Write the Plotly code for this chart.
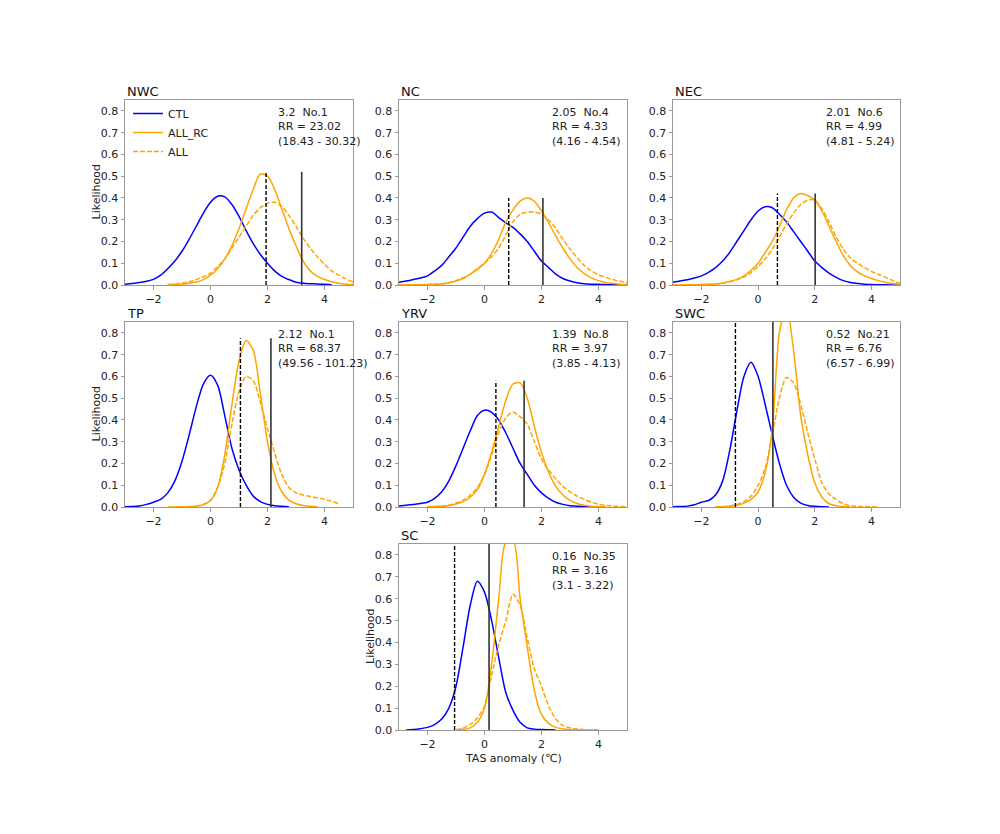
import plotly.graph_objects as go

# x grid of the density curves (deg C)
X = [-3.0, -2.75, -2.5, -2.25, -2.0, -1.75, -1.5, -1.25, -1.0, -0.75, -0.5, -0.25,
     0.0, 0.25, 0.5, 0.75, 1.0, 1.25, 1.5, 1.75, 2.0, 2.25, 2.5, 2.75,
     3.0, 3.25, 3.5, 3.75, 4.0, 4.25, 4.5, 4.75, 5.0]

regions = ["NWC", "NC", "NEC", "TP", "YRV", "SWC", "SC"]

# ---- NWC
ctl_nwc = [0.004, 0.007, 0.011, 0.017, 0.026, 0.045, 0.075, 0.11, 0.155, 0.21, 0.27, 0.33,
           0.38, 0.408, 0.405, 0.37, 0.315, 0.25, 0.19, 0.14, 0.10, 0.065, 0.04, 0.025,
           0.013, 0.008, 0.006, 0.005, 0.003, 0.001, None, None, None]
allrc_nwc = [None, None, None, None, None, None, 0.001, 0.002, 0.004, 0.008, 0.014, 0.025,
             0.045, 0.075, 0.12, 0.18, 0.26, 0.35, 0.44, 0.51, 0.50, 0.44, 0.35, 0.26,
             0.18, 0.11, 0.065, 0.04, 0.025, 0.015, 0.008, 0.004, 0.002]
all_nwc = [None, None, None, None, None, None, 0.002, 0.004, 0.008, 0.015, 0.025, 0.038,
           0.055, 0.085, 0.12, 0.17, 0.22, 0.27, 0.32, 0.355, 0.375, 0.38, 0.36, 0.32,
           0.27, 0.215, 0.17, 0.13, 0.095, 0.065, 0.045, 0.028, 0.015]

# ---- NC
ctl_nc = [0.013, 0.018, 0.025, 0.032, 0.042, 0.065, 0.09, 0.13, 0.17, 0.22, 0.27, 0.305,
          0.33, 0.335, 0.31, 0.285, 0.265, 0.235, 0.20, 0.155, 0.11, 0.08, 0.05, 0.03,
          0.018, 0.01, 0.006, 0.004, 0.003, 0.002, 0.001, 0.001, 0.0]
allrc_nc = [0.0, 0.0, 0.001, 0.001, 0.002, 0.003, 0.005, 0.01, 0.018, 0.03, 0.05, 0.072,
            0.10, 0.145, 0.21, 0.29, 0.345, 0.385, 0.40, 0.385, 0.34, 0.285, 0.225, 0.17,
            0.12, 0.08, 0.052, 0.033, 0.02, 0.012, 0.007, 0.004, 0.002]
all_nc = [0.0, 0.0, 0.001, 0.001, 0.002, 0.004, 0.006, 0.011, 0.02, 0.032, 0.05, 0.075,
          0.10, 0.13, 0.17, 0.23, 0.29, 0.325, 0.335, 0.335, 0.325, 0.30, 0.26, 0.21,
          0.165, 0.125, 0.09, 0.065, 0.047, 0.035, 0.025, 0.017, 0.01]

# ---- NEC
ctl_nec = [0.013, 0.018, 0.024, 0.032, 0.042, 0.058, 0.08, 0.11, 0.15, 0.20, 0.25, 0.30,
           0.34, 0.36, 0.355, 0.325, 0.29, 0.245, 0.20, 0.155, 0.11, 0.08, 0.055, 0.035,
           0.02, 0.012, 0.007, 0.004, 0.002, 0.001, 0.001, 0.0, 0.0]
allrc_nec = [0.0, 0.0, 0.001, 0.001, 0.002, 0.003, 0.005, 0.009, 0.016, 0.026, 0.042, 0.068,
             0.10, 0.15, 0.20, 0.27, 0.345, 0.40, 0.42, 0.41, 0.39, 0.34, 0.27, 0.20,
             0.135, 0.09, 0.06, 0.042, 0.03, 0.02, 0.012, 0.007, 0.004]
all_nec = [0.0, 0.0, 0.001, 0.001, 0.002, 0.003, 0.005, 0.009, 0.015, 0.024, 0.036, 0.058,
           0.085, 0.12, 0.165, 0.22, 0.28, 0.33, 0.37, 0.39, 0.39, 0.35, 0.29, 0.22,
           0.165, 0.125, 0.10, 0.08, 0.062, 0.048, 0.035, 0.02, 0.008]

# ---- TP
ctl_tp = [0.001, 0.002, 0.005, 0.012, 0.022, 0.035, 0.065, 0.12, 0.21, 0.33, 0.46, 0.565,
          0.605, 0.56, 0.42, 0.27, 0.17, 0.10, 0.05, 0.025, 0.012, 0.006, 0.003, 0.001,
          None, None, None, None, None, None, None, None, None]
allrc_tp = [None, None, None, None, None, None, 0.0, 0.0, 0.001, 0.002, 0.004, 0.01,
            0.03, 0.09, 0.24, 0.47, 0.67, 0.765, 0.72, 0.52, 0.30, 0.15, 0.07, 0.032,
            0.015, 0.007, 0.003, 0.001, None, None, None, None, None]
all_tp = [None, None, None, None, None, None, None, None, 0.0, 0.001, 0.004, 0.012,
          0.03, 0.09, 0.20, 0.38, 0.53, 0.60, 0.58, 0.48, 0.36, 0.25, 0.15, 0.09,
          0.065, 0.055, 0.048, 0.042, 0.035, 0.027, 0.015, None, None]

# ---- YRV
ctl_yrv = [0.004, 0.008, 0.012, 0.016, 0.022, 0.04, 0.07, 0.12, 0.19, 0.27, 0.35, 0.42,
           0.445, 0.435, 0.40, 0.34, 0.27, 0.20, 0.15, 0.10, 0.065, 0.04, 0.022, 0.012,
           0.006, 0.004, 0.002, 0.001, 0.0, None, None, None, None]
allrc_yrv = [None, None, None, None, 0.001, 0.002, 0.003, 0.007, 0.014, 0.025, 0.045, 0.08,
             0.15, 0.25, 0.37, 0.49, 0.565, 0.57, 0.50, 0.37, 0.25, 0.16, 0.095, 0.055,
             0.03, 0.016, 0.008, 0.004, 0.002, 0.001, None, None, None]
all_yrv = [None, None, None, None, 0.001, 0.002, 0.004, 0.009, 0.018, 0.032, 0.055, 0.09,
           0.15, 0.24, 0.34, 0.41, 0.435, 0.415, 0.38, 0.30, 0.22, 0.17, 0.13, 0.095,
           0.07, 0.05, 0.035, 0.022, 0.013, 0.007, 0.004, 0.002, 0.001]

# ---- SWC
ctl_swc = [0.001, 0.002, 0.004, 0.01, 0.022, 0.03, 0.055, 0.12, 0.26, 0.44, 0.60, 0.665,
           0.60, 0.47, 0.33, 0.20, 0.10, 0.045, 0.018, 0.007, 0.003, 0.001, 0.0, None,
           None, None, None, None, None, None, None, None, None]
allrc_swc = [None, None, None, None, None, None, 0.0, 0.001, 0.003, 0.008, 0.018, 0.035,
             0.07, 0.16, 0.36, 0.80, 0.92, 0.72, 0.42, 0.24, 0.11, 0.045, 0.015, 0.006,
             0.002, 0.001, None, None, None, None, None, None, None]
all_swc = [None, None, None, None, None, None, 0.001, 0.002, 0.005, 0.012, 0.025, 0.05,
           0.10, 0.18, 0.33, 0.50, 0.595, 0.57, 0.47, 0.34, 0.22, 0.11, 0.06, 0.035,
           0.015, 0.006, 0.003, 0.002, 0.001, 0.0, None, None, None]

# ---- SC
ctl_sc = [None, 0.0, 0.002, 0.006, 0.012, 0.025, 0.05, 0.10, 0.20, 0.38, 0.57, 0.68,
          0.63, 0.50, 0.33, 0.17, 0.09, 0.035, 0.01, 0.004, 0.002, 0.001, 0.0, None,
          None, None, None, None, None, None, None, None, None]
allrc_sc = [None, None, None, None, None, None, None, None, 0.0, 0.003, 0.01, 0.035,
            0.10, 0.30, 0.60, 0.86, 0.87, 0.60, 0.38, 0.18, 0.07, 0.03, 0.012, 0.005,
            0.002, 0.001, 0.0, 0.0, 0.0, None, None, None, None]
all_sc = [None, None, None, None, None, None, None, None, 0.002, 0.008, 0.025, 0.055,
          0.11, 0.25, 0.39, 0.50, 0.62, 0.57, 0.42, 0.28, 0.20, 0.11, 0.05, 0.02,
          0.01, 0.005, 0.002, 0.001, 0.001, None, None, None, None]

ctl = [ctl_nwc, ctl_nc, ctl_nec, ctl_tp, ctl_yrv, ctl_swc, ctl_sc]
allrc = [allrc_nwc, allrc_nc, allrc_nec, allrc_tp, allrc_yrv, allrc_swc, allrc_sc]
all_ = [all_nwc, all_nc, all_nec, all_tp, all_yrv, all_swc, all_sc]

obs_values = [3.2, 2.05, 2.01, 2.12, 1.39, 0.52, 0.16]
thresholds = [1.95, 0.85, 0.68, 1.05, 0.40, -0.80, -1.05]
line_tops = [0.52, 0.40, 0.42, 0.775, 0.58, 0.90, 0.90]
ranks = ["No.1", "No.4", "No.6", "No.1", "No.8", "No.21", "No.35"]
rr = [23.02, 4.33, 4.99, 68.37, 3.97, 6.76, 3.16]
rr_lo = [18.43, 4.16, 4.81, 49.56, 3.85, 6.57, 3.1]
rr_hi = [30.32, 4.54, 5.24, 101.23, 4.13, 6.99, 3.22]

y_ticks = [0.0, 0.1, 0.2, 0.3, 0.4, 0.5, 0.6, 0.7, 0.8]
x_ticks = [-2, 0, 2, 4]

W, H = 1000, 834
OFF = 8  # page body margin
cols = [(125, 353), (399, 627), (673, 900)]
rows = [(100, 285), (322, 507), (544, 730)]
cells = [(0, 0), (0, 1), (0, 2), (1, 0), (1, 1), (1, 2), (2, 1)]

BLUE = "#0000ff"
ORANGE = "#ffa500"
FONT = "DejaVu Sans"
TXT = "#222222"

fig = go.Figure()
layout = {}
annotations = []

for i, reg in enumerate(regions):
    n = i + 1
    xa, ya = "x%d" % n if n > 1 else "x", "y%d" % n if n > 1 else "y"
    show = i == 0
    fig.add_trace(go.Scatter(x=X, y=ctl[i], mode="lines", name="CTL", showlegend=show,
                             line=dict(color=BLUE, width=1.5, shape="spline", smoothing=0.8),
                             xaxis=xa, yaxis=ya))
    fig.add_trace(go.Scatter(x=X, y=allrc[i], mode="lines", name="ALL_RC", showlegend=show,
                             line=dict(color=ORANGE, width=1.5, shape="spline", smoothing=0.8),
                             xaxis=xa, yaxis=ya))
    fig.add_trace(go.Scatter(x=X, y=all_[i], mode="lines", name="ALL", showlegend=show,
                             line=dict(color=ORANGE, width=1.5, dash="5px,2px",
                                       shape="spline", smoothing=0.8),
                             xaxis=xa, yaxis=ya))
    fig.add_trace(go.Scatter(x=[thresholds[i], thresholds[i]], y=[0, line_tops[i]],
                             mode="lines", showlegend=False,
                             line=dict(color="black", width=1.4, dash="4px,2px"),
                             xaxis=xa, yaxis=ya))
    fig.add_trace(go.Scatter(x=[obs_values[i], obs_values[i]], y=[0, line_tops[i]],
                             mode="lines", showlegend=False,
                             line=dict(color="#333333", width=1.6),
                             xaxis=xa, yaxis=ya))

    r, c = cells[i]
    x0, x1 = cols[c]
    y0, y1 = rows[r]
    pw, ph = x1 - x0, y1 - y0
    axis_common = dict(showline=True, mirror=True, linecolor="#999999", linewidth=1,
                       ticks="outside", ticklen=3.5, tickcolor="#999999", showgrid=False,
                       zeroline=False, automargin=False,
                       tickfont=dict(family=FONT, size=11, color=TXT))
    key = "" if n == 1 else str(n)
    layout["xaxis" + key] = dict(axis_common, domain=[(x0 - OFF) / W, (x1 - OFF) / W],
                                 range=[-3, 5], tickvals=x_ticks,
                                 ticktext=["\u22122", "0", "2", "4"], anchor=ya)
    layout["yaxis" + key] = dict(axis_common, domain=[1 - (y1 - OFF) / H, 1 - (y0 - OFF) / H],
                                 range=[0, 0.85], tickvals=y_ticks, tickformat=".1f",
                                 anchor=xa)
    if c == 0 or reg == "SC":
        annotations.append(dict(text="Likelihood", xref=xa + " domain", yref=ya + " domain",
                                x=-29 / pw, y=0.5, xanchor="center", yanchor="middle",
                                textangle=-90, showarrow=False,
                                font=dict(family=FONT, size=11, color=TXT)))
    if reg == "SC":
        annotations.append(dict(text="TAS anomaly (\u2103)", xref=xa + " domain",
                                yref=ya + " domain", x=0.5, y=-28 / ph,
                                xanchor="center", yanchor="middle", showarrow=False,
                                font=dict(family=FONT, size=11, color=TXT)))

    annotations.append(dict(text=reg, xref=xa + " domain", yref=ya + " domain", x=0, y=1,
                            xanchor="left", yanchor="bottom", showarrow=False, yshift=-1,
                            font=dict(family=FONT, size=13, color="#111111")))
    note = "%s  %s<br>RR = %s<br>(%s - %s)" % (obs_values[i], ranks[i], rr[i], rr_lo[i], rr_hi[i])
    annotations.append(dict(text=note, xref=xa + " domain", yref=ya + " domain",
                            x=151 / pw, y=1 - 4 / ph, xanchor="left", yanchor="top",
                            align="left", showarrow=False,
                            font=dict(family=FONT, size=11, color=TXT)))

fig.update_layout(**layout)
fig.update_layout(
    width=W, height=H,
    margin=dict(l=0, r=0, t=0, b=0, autoexpand=False),
    paper_bgcolor="white", plot_bgcolor="white",
    annotations=annotations,
    legend=dict(x=(128 - OFF) / W, y=1 - (99 - OFF) / H, xanchor="left", yanchor="top",
                bgcolor="rgba(0,0,0,0)", font=dict(family=FONT, size=11, color=TXT),
                tracegroupgap=0),
    font=dict(family=FONT),
)

fig.write_html("out.html")
